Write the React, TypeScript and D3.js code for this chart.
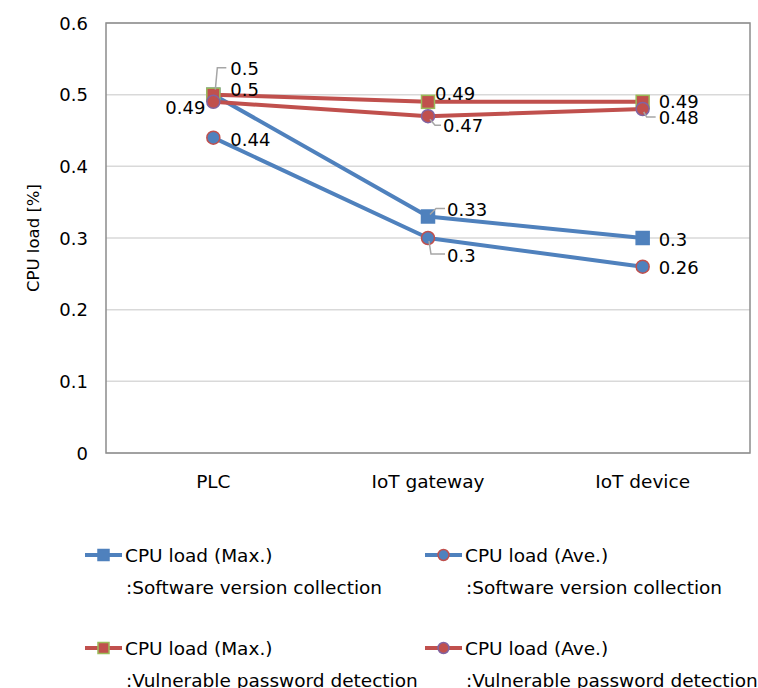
import * as d3 from 'd3';
import React from 'react';

const categories = ['PLC', 'IoT gateway', 'IoT device'];

const maxSoftware = [0.5, 0.33, 0.3];
const aveSoftware = [0.44, 0.3, 0.26];
const maxPassword = [0.5, 0.49, 0.49];
const avePassword = [0.49, 0.47, 0.48];

const yTicks = [0, 0.1, 0.2, 0.3, 0.4, 0.5, 0.6];

const BLUE = '#4F81BD';
const RED = '#C0504D';
const FONT = '"DejaVu Sans", Verdana, sans-serif';

type Shape = 'square' | 'circle';

interface Series {
  key: string;
  values: number[];
  line: string;
  fill: string;
  stroke: string;
  shape: Shape;
  title: string;
  sub: string;
}

const series: Series[] = [
  { key: 'maxSw', values: maxSoftware, line: BLUE, fill: BLUE, stroke: BLUE, shape: 'square', title: 'CPU load (Max.)', sub: ':Software version collection' },
  { key: 'aveSw', values: aveSoftware, line: BLUE, fill: BLUE, stroke: RED, shape: 'circle', title: 'CPU load (Ave.)', sub: ':Software version collection' },
  { key: 'maxPw', values: maxPassword, line: RED, fill: RED, stroke: '#9BBB59', shape: 'square', title: 'CPU load (Max.)', sub: ':Vulnerable password detection' },
  { key: 'avePw', values: avePassword, line: RED, fill: RED, stroke: '#8064A2', shape: 'circle', title: 'CPU load (Ave.)', sub: ':Vulnerable password detection' },
];

// label placement per series / category: text offset from the point, anchor, optional leader
interface LabelPos { dx: number; dy: number; anchor?: 'start' | 'end'; leader?: [number, number][] }

const labelPos: Record<string, LabelPos[]> = {
  maxSw: [
    { dx: 17, dy: -26, leader: [[2, -5], [4, -27], [13, -27]] },
    { dx: 19, dy: -7, leader: [[2, -2], [8, -8], [17, -8]] },
    { dx: 16, dy: 1 },
  ],
  aveSw: [
    { dx: 17, dy: 2 },
    { dx: 19, dy: 17, leader: [[1, 3], [3, 16], [17, 16]] },
    { dx: 16, dy: 1 },
  ],
  maxPw: [
    { dx: 17, dy: -5 },
    { dx: 7, dy: -8 },
    { dx: 16, dy: 0 },
  ],
  avePw: [
    { dx: -8, dy: 6, anchor: 'end' },
    { dx: 15, dy: 9, leader: [[2, 3], [7, 9], [13, 9]] },
    { dx: 16, dy: 8, leader: [[1, 3], [4, 8], [13, 8]] },
  ],
};

const W = 758;
const H = 688;
const plot = { left: 106, right: 750, top: 23, bottom: 453 };

const Marker: React.FC<{ s: Series; x: number; y: number; size?: number }> = ({ s, x, y, size = 13 }) =>
  s.shape === 'square' ? (
    <rect x={x - size / 2} y={y - size / 2} width={size} height={size} fill={s.fill} stroke={s.stroke} strokeWidth={1.5} />
  ) : (
    <circle cx={x} cy={y} r={size / 2} fill={s.fill} stroke={s.stroke} strokeWidth={1.5} />
  );

export default function App() {
  const x = d3.scaleBand<string>().domain(categories).range([plot.left, plot.right]);
  const y = d3.scaleLinear().domain([0, 0.6]).range([plot.bottom, plot.top]);
  const cx = (c: string) => (x(c) ?? 0) + x.bandwidth() / 2;

  const line = d3
    .line<number>()
    .x((_, i) => cx(categories[i]))
    .y((v) => y(v));

  const legendCols = [85, 425];
  const legendRows = [555, 648];

  return (
    <svg width={W} height={H} style={{ position: 'absolute', left: 0, top: 0, background: '#fff' }} fontFamily={FONT}>
      {/* gridlines */}
      {yTicks.map((t) => (
        <line key={t} x1={plot.left} x2={plot.right} y1={y(t)} y2={y(t)} stroke="#D9D9D9" strokeWidth={1.5} />
      ))}
      <rect x={plot.left} y={plot.top} width={plot.right - plot.left} height={plot.bottom - plot.top} fill="none" stroke="#8C8C8C" strokeWidth={1.5} />

      {yTicks.map((t) => (
        <text key={t} x={88} y={y(t)} textAnchor="end" dominantBaseline="central" fontSize={18}>
          {d3.format('~g')(t)}
        </text>
      ))}
      <text transform={`translate(33, ${(plot.top + plot.bottom) / 2}) rotate(-90)`} textAnchor="middle" dominantBaseline="central" fontSize={16.5}>
        CPU load [%]
      </text>

      {categories.map((c) => (
        <text key={c} x={cx(c)} y={481} textAnchor="middle" dominantBaseline="central" fontSize={18.5}>
          {c}
        </text>
      ))}

      {series.map((s) => (
        <g key={s.key}>
          <path d={line(s.values) ?? ''} fill="none" stroke={s.line} strokeWidth={4} strokeLinejoin="round" />
          {s.values.map((v, i) => (
            <Marker key={i} s={s} x={cx(categories[i])} y={y(v)} />
          ))}
        </g>
      ))}

      {/* data labels */}
      {series.map((s) =>
        s.values.map((v, i) => {
          const px = cx(categories[i]);
          const py = y(v);
          const lp = labelPos[s.key][i];
          return (
            <g key={`${s.key}-${i}`}>
              {lp.leader && (
                <polyline
                  points={lp.leader.map(([a, b]) => `${px + a},${py + b}`).join(' ')}
                  fill="none"
                  stroke="#A6A6A6"
                  strokeWidth={1.5}
                />
              )}
              <text x={px + lp.dx} y={py + lp.dy} textAnchor={lp.anchor ?? 'start'} dominantBaseline="central" fontSize={18}>
                {d3.format('~g')(v)}
              </text>
            </g>
          );
        })
      )}

      {/* legend */}
      {series.map((s, i) => {
        const lx = legendCols[i % 2];
        const ly = legendRows[Math.floor(i / 2)];
        return (
          <g key={`lg-${s.key}`}>
            <line x1={lx} x2={lx + 37} y1={ly} y2={ly} stroke={s.line} strokeWidth={4} />
            <Marker s={s} x={lx + 18.5} y={ly} size={11} />
            <text x={lx + 40} y={ly} dominantBaseline="central" fontSize={18.5}>
              {s.title}
            </text>
            <text x={lx + 41} y={ly + 32} dominantBaseline="central" fontSize={18.5}>
              {s.sub}
            </text>
          </g>
        );
      })}
    </svg>
  );
}
